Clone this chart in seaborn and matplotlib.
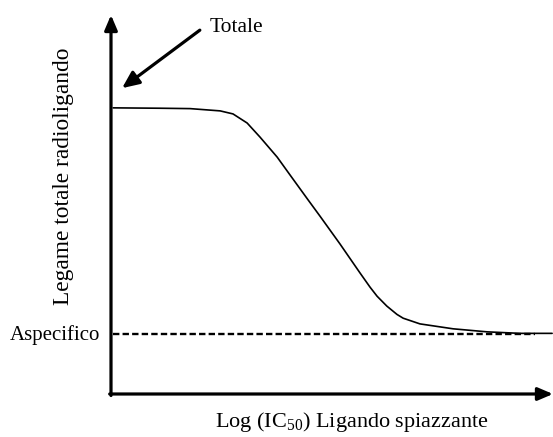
import matplotlib
matplotlib.use("Agg")
import matplotlib.pyplot as plt
import seaborn as sns
import pandas as pd

# Displacement curve: log concentration of displacing ligand vs total radioligand binding
log_conc = [0.05, 1.11, 1.79, 2.47, 2.76, 3.08, 3.37, 3.76, 4.05, 4.46, 4.73,
            5.18, 5.63, 5.86, 6.02, 6.24, 6.47, 6.61, 6.99, 7.74, 8.51, 9.25, 9.98]
binding = [75.5, 75.4, 75.3, 74.7, 73.9, 71.5, 67.8, 62.5, 57.8, 51.2, 46.9,
           39.6, 32.0, 28.2, 25.8, 23.2, 21.0, 20.0, 18.5, 17.2, 16.4, 16.0, 16.0]

# Nonspecific binding level
nonspecific_x = [0.05, 9.6]
nonspecific_y = [15.8, 15.8]

label_total = "Totale"
label_nonspecific = "Aspecifico"
xlabel = r"Log (IC$\mathregular{_{50}}$) Ligando spiazzante"
ylabel = "Legame totale radioligando"

sns.set_theme(style="white")
plt.rcParams["font.family"] = ["Liberation Serif", "DejaVu Serif"]
plt.rcParams["mathtext.fontset"] = "custom"
plt.rcParams["mathtext.rm"] = "Liberation Serif"

fig = plt.figure(figsize=(5.53, 4.37), dpi=100)
ax = fig.add_axes([111 / 553, 43 / 437, 442 / 553, 379 / 437])
ax.set_xlim(0, 10)
ax.set_ylim(0, 100)
for s in ax.spines.values():
    s.set_visible(False)
ax.set_xticks([])
ax.set_yticks([])

curve = pd.DataFrame({"x": log_conc, "y": binding})
sns.lineplot(data=curve, x="x", y="y", ax=ax, color="black", lw=1.2,
             sort=False, estimator=None)
ax.lines[-1].set_solid_joinstyle("round")
ns = pd.DataFrame({"x": nonspecific_x, "y": nonspecific_y})
sns.lineplot(data=ns, x="x", y="y", ax=ax, color="black", lw=1.7,
             dashes=False, estimator=None)
ax.lines[-1].set_dashes((2.7, 1.35))
ax.set_xlabel("")
ax.set_ylabel("")

# Axes drawn as arrows
arrow_kw = dict(arrowstyle="-|>,head_length=0.75,head_width=0.32", lw=2.3,
                color="black", shrinkA=0, shrinkB=0)
ax.annotate("", xy=(1.0, 0.0), xytext=(-0.003, 0.0), xycoords="axes fraction",
            arrowprops=arrow_kw, annotation_clip=False)
ax.annotate("", xy=(0.0, 1.0), xytext=(0.0, -0.004), xycoords="axes fraction",
            arrowprops=arrow_kw, annotation_clip=False)

# Pointer to the total binding plateau
ax.annotate("", xy=(0.25, 80.7), xytext=(2.01, 96.0),
            arrowprops=dict(arrowstyle="-|>,head_length=0.85,head_width=0.38",
                            lw=2.3, color="black", shrinkA=0, shrinkB=0),
            annotation_clip=False)
ax.text(2.24, 96.8, label_total, fontsize=15.5, ha="left", va="center",
        color="black")
ax.text(-0.25, 15.6, label_nonspecific, fontsize=15, ha="right",
        va="center", color="black", clip_on=False)

fig.text(352 / 553, 1 - 422 / 437, xlabel, fontsize=16, ha="center",
         va="center", color="black")
fig.text(63 / 553, 1 - 176 / 437, ylabel, fontsize=16.8, ha="center",
         va="center", rotation=90, color="black")

fig.savefig("out.png", dpi=100)
